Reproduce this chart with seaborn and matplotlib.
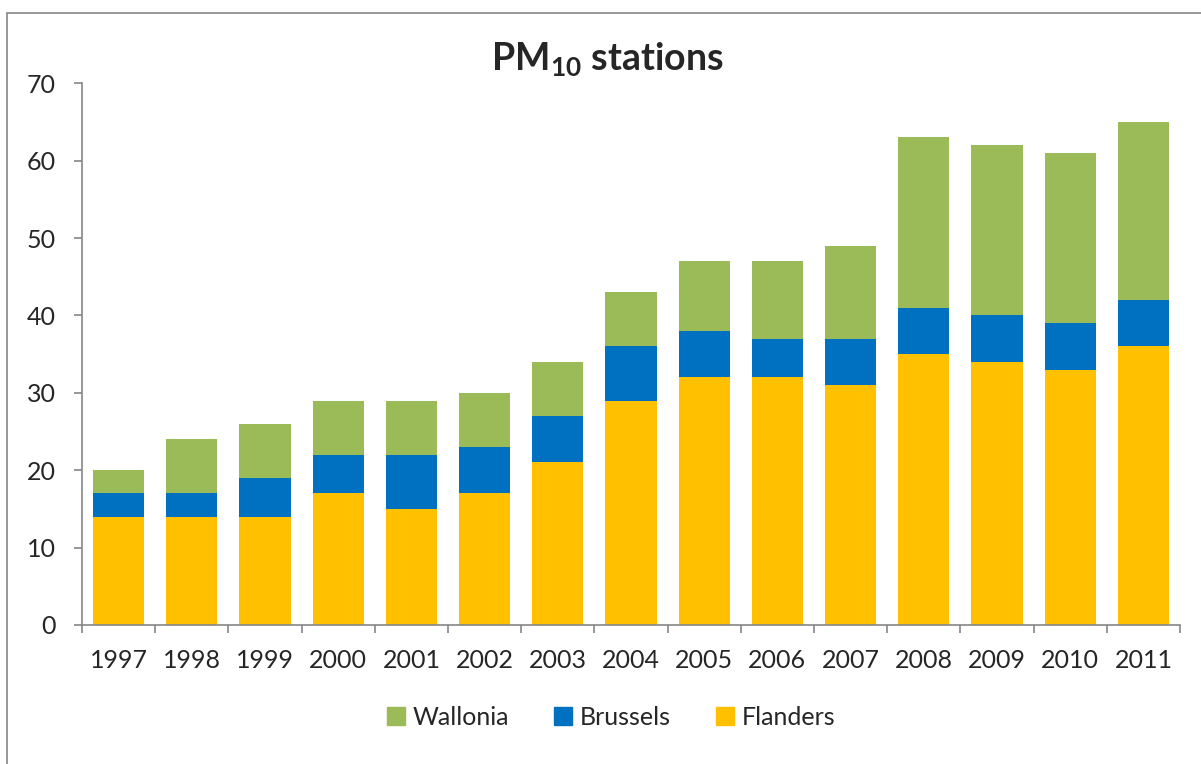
import numpy as np
import pandas as pd
import matplotlib
matplotlib.use("Agg")
import matplotlib.pyplot as plt
import seaborn as sns
from matplotlib.patches import Patch, Rectangle

years = ["1997", "1998", "1999", "2000", "2001", "2002", "2003", "2004",
         "2005", "2006", "2007", "2008", "2009", "2010", "2011"]
flanders = [14, 14, 14, 17, 15, 17, 21, 29, 32, 32, 31, 35, 34, 33, 36]
brussels = [3, 3, 5, 5, 7, 6, 6, 7, 6, 5, 6, 6, 6, 6, 6]
wallonia = [3, 7, 7, 7, 7, 7, 7, 7, 9, 10, 12, 22, 22, 22, 23]

c_wal = "#9BBB59"
c_bru = "#0070C0"
c_fla = "#FFC000"
grey = "#868686"

sns.set_style("white")
plt.rcParams["font.family"] = ["Lato", "DejaVu Sans"]
plt.rcParams["mathtext.fontset"] = "custom"
plt.rcParams["mathtext.bf"] = "Lato:bold"
plt.rcParams["mathtext.rm"] = "Lato"

df = pd.DataFrame({"year": years, "Flanders": flanders,
                   "Brussels": brussels, "Wallonia": wallonia})
df["top_bru"] = df["Flanders"] + df["Brussels"]
df["top_wal"] = df["top_bru"] + df["Wallonia"]

fig = plt.figure(figsize=(12.01, 7.64), dpi=100)
ax = fig.add_axes([0.0683, 0.182, 0.9142, 0.709])

# stacked by overlaying cumulative totals
for col, c in [("top_wal", c_wal), ("top_bru", c_bru), ("Flanders", c_fla)]:
    sns.barplot(data=df, x="year", y=col, color=c, width=0.7, saturation=1,
                linewidth=0, ax=ax, order=years)

ax.set_xlim(-0.5, len(years) - 0.5)
ax.set_ylim(0, 70)
ax.set_yticks(range(0, 71, 10))
ax.set_xlabel("")
ax.set_ylabel("")

for s in ["top", "right"]:
    ax.spines[s].set_visible(False)
for s in ["left", "bottom"]:
    ax.spines[s].set_color(grey)
    ax.spines[s].set_linewidth(1.2)

ax.tick_params(axis="y", direction="out", length=6, width=1.2, color=grey,
               labelsize=18, pad=13, left=True)
ax.tick_params(axis="x", which="major", length=0, labelsize=18, pad=17)
ax.set_xticks(np.arange(-0.5, len(years), 1.0), minor=True)
ax.tick_params(axis="x", which="minor", direction="out", length=6, width=1.2,
               color=grey, bottom=True)

fig.text(0.506, 0.908, r"PM$_{\mathbf{10}}$ stations", ha="center", va="baseline",
         fontsize=27, fontweight="bold")

handles = [Patch(color=c_wal, label="Wallonia"),
           Patch(color=c_bru, label="Brussels"),
           Patch(color=c_fla, label="Flanders")]
fig.legend(handles=handles, loc="center", bbox_to_anchor=(0.509, 0.061), ncol=3,
           frameon=False, fontsize=18, handlelength=0.72, handleheight=0.72,
           columnspacing=1.8, handletextpad=0.3)

fig.patches.append(Rectangle((0.0058, -0.02), 1.1, 1.003, transform=fig.transFigure,
                             fill=False, edgecolor=grey, linewidth=1.2))

fig.savefig("out.png", dpi=100)
